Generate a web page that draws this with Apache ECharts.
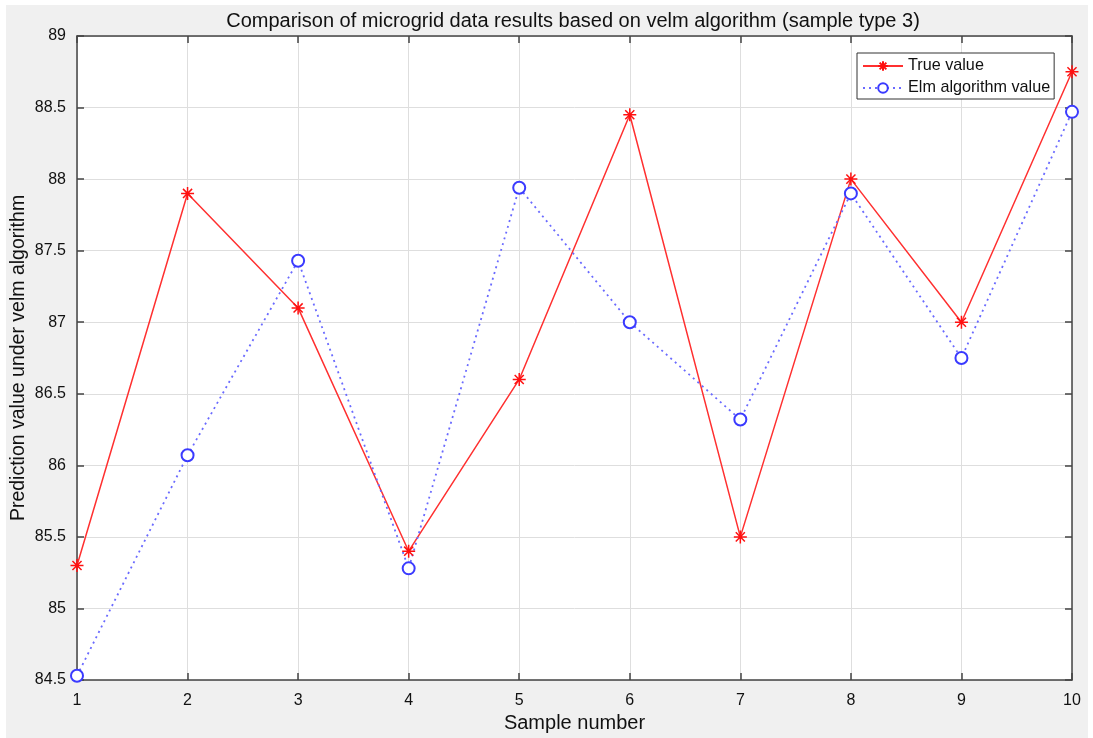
<!DOCTYPE html>
<html><head><meta charset="utf-8">
<script src="https://cdn.jsdelivr.net/npm/echarts@6/dist/echarts.min.js"></script>
<style>html,body{margin:0;padding:0;background:#fff}#c{width:1093px;height:738px}</style>
</head><body><div id="c"></div>
<script>
const samples = [1,2,3,4,5,6,7,8,9,10];
const trueValues = [85.30,87.90,87.10,85.40,86.60,88.45,85.50,88.00,87.00,88.75];
const elmValues  = [84.53,86.07,87.43,85.28,87.94,87.00,86.32,87.90,86.75,88.47];
const titleText = 'Comparison of microgrid data results based on velm algorithm (sample type 3)';
const xName = 'Sample number';
const yName = 'Prediction value under velm algorithm';

const FONT = '"Liberation Sans", Arial, sans-serif';
const asterisk = 'path://M0,-10L0,10M-10,0L10,0M-7,-7L7,7M-7,7L7,-7';
const chart = echarts.init(document.getElementById('c'));
const gridLeft = 77, gridRight = 21, gridTop = 36, gridBottom = 58;
chart.setOption({
  animation:false,
  backgroundColor:'#ffffff',
  graphic:[{type:'rect',z:-10,silent:true,shape:{x:6,y:5,width:1082,height:733},style:{fill:'#f0f0f0'}}],
  title:{text:titleText,left:568,textAlign:'center',top:6,textStyle:{fontFamily:FONT,fontSize:20,fontWeight:'normal',color:'#111'}},
  grid:{left:gridLeft,right:gridRight,top:gridTop,bottom:gridBottom,show:true,backgroundColor:'#fff',borderWidth:0,
    containLabel:false,outerBoundsMode:'none'},
  legend:{orient:'vertical',left:857,top:53,itemWidth:40,itemHeight:12,itemGap:6,
    padding:[5,4,3,5],backgroundColor:'#fff',borderColor:'#333',borderWidth:1,
    textStyle:{fontFamily:FONT,fontSize:16.2,color:'#111'},data:['True value','Elm algorithm value']},
  xAxis:[{type:'value',min:1,max:10,interval:1,name:xName,nameLocation:'middle',nameGap:33,nameMoveOverlap:false,
    nameTextStyle:{fontFamily:FONT,fontSize:20,color:'#111'},
    axisLine:{lineStyle:{color:'#444',width:1.5}},axisTick:{inside:true,length:7,lineStyle:{color:'#444',width:1.5}},
    axisLabel:{fontFamily:FONT,fontSize:16,color:'#111',margin:13},
    splitLine:{show:true,lineStyle:{color:'#dedede',width:1}}},
   {type:'value',position:'top',min:1,max:10,interval:1,
    axisLine:{lineStyle:{color:'#444',width:1.5}},axisTick:{inside:true,length:7,lineStyle:{color:'#444',width:1.5}},
    axisLabel:{show:false},splitLine:{show:false}}],
  yAxis:[{type:'value',min:84.5,max:89,interval:0.5,name:yName,nameLocation:'middle',nameGap:48,nameMoveOverlap:false,
    nameTextStyle:{fontFamily:FONT,fontSize:19.5,color:'#111'},
    axisLine:{show:true,lineStyle:{color:'#444',width:1.5}},axisTick:{show:true,inside:true,length:7,lineStyle:{color:'#444',width:1.5}},
    axisLabel:{fontFamily:FONT,fontSize:16,color:'#111',margin:11},
    splitLine:{show:true,lineStyle:{color:'#dedede',width:1}}},
   {type:'value',position:'right',min:84.5,max:89,interval:0.5,
    axisLine:{show:true,lineStyle:{color:'#444',width:1.5}},axisTick:{show:true,inside:true,length:7,lineStyle:{color:'#444',width:1.5}},
    axisLabel:{show:false},splitLine:{show:false}}],
  series:[
    {name:'True value',type:'line',data:samples.map((s,i)=>[s,trueValues[i]]),
     symbol:asterisk,symbolSize:13,showAllSymbol:true,
     lineStyle:{color:'#ff3030',width:1.5},
     itemStyle:{color:'#ff1010',borderColor:'#ff1010',borderWidth:1.5}},
    {name:'Elm algorithm value',type:'line',data:samples.map((s,i)=>[s,elmValues[i]]),
     symbol:'emptyCircle',symbolSize:12,showAllSymbol:true,
     lineStyle:{color:'#6a6aff',width:1.8,type:[2,4]},
     itemStyle:{color:'#3a3aff',borderColor:'#3a3aff',borderWidth:1.6}}
  ]
});
</script></body></html>
